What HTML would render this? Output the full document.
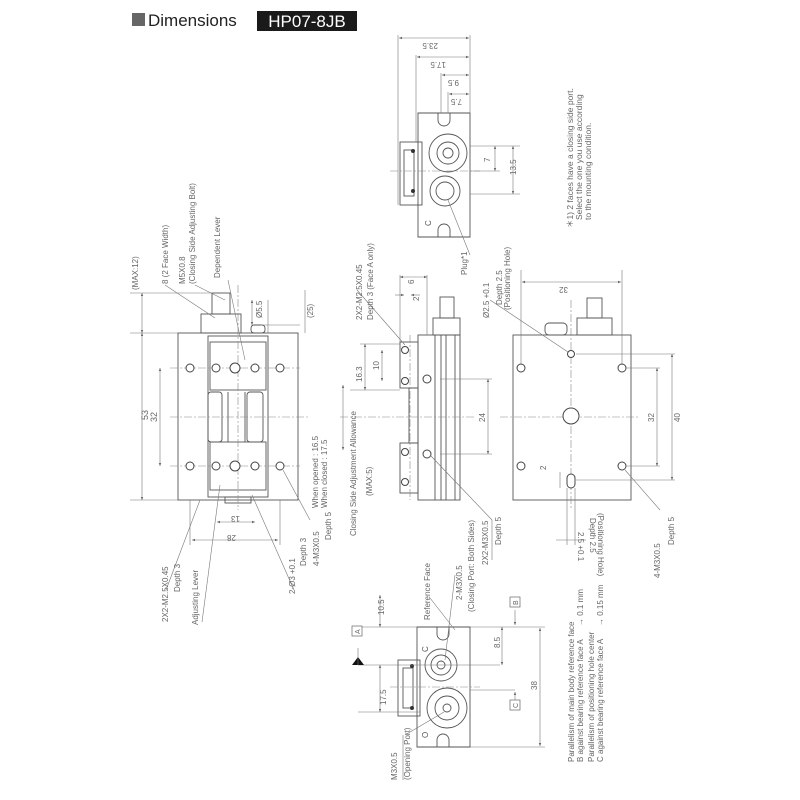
<!DOCTYPE html>
<html><head><meta charset="utf-8">
<style>
html,body{margin:0;padding:0;background:#fff;width:800px;height:800px;overflow:hidden}
svg{display:block}
text{font-family:"Liberation Sans",sans-serif;fill:#666;font-size:8px}
.l{stroke:#555;stroke-width:0.9;fill:none}
.t{stroke:#777;stroke-width:0.6;fill:none}
.c{stroke:#888;stroke-width:0.6;fill:none;stroke-dasharray:8 2 2 2}
.h{stroke:#444;stroke-width:1;fill:#fff}
</style></head><body>
<svg width="800" height="800" viewBox="0 0 800 800" xmlns="http://www.w3.org/2000/svg">
<defs>
<marker id="a" markerWidth="6" markerHeight="6" refX="5" refY="3" orient="auto-start-reverse"><path d="M0,1 L5,3 L0,5" fill="#666" stroke="none"/></marker>
</defs>
<rect x="132" y="13" width="13" height="13" fill="#666"/>
<text x="148" y="26" style="font-size:17px;fill:#222">Dimensions</text>
<rect x="257" y="11" width="100" height="20" fill="#1a1a1a"/>
<text x="307" y="27" text-anchor="middle" style="font-size:17px;fill:#fff">HP07-8JB</text>

<!-- LEFT VIEW -->
<rect class="l" x="178" y="333" width="120" height="167"/>
<rect class="l" x="208" y="336" width="60" height="161"/>
<rect class="l" x="210" y="342" width="56" height="48"/>
<rect class="l" x="210" y="442" width="56" height="48"/>
<rect class="l" x="208" y="392" width="14" height="50" rx="3"/>
<rect class="l" x="247" y="392" width="16" height="50" rx="3"/>
<line class="l" x1="228" y1="392" x2="228" y2="442"/>
<line class="l" x1="245" y1="392" x2="245" y2="442"/>
<rect class="l" x="201" y="314" width="40" height="19"/>
<rect class="l" x="212" y="293" width="18" height="21"/>
<rect class="l" x="251" y="325" width="14" height="8" rx="3"/>
<rect class="l" x="225" y="497" width="26" height="6"/>
<line class="c" x1="238" y1="285" x2="238" y2="510"/>
<line class="c" x1="170" y1="417" x2="310" y2="417"/>
<line class="c" x1="170" y1="368" x2="300" y2="368"/>
<line class="c" x1="170" y1="466" x2="300" y2="466"/>
<g class="h">
<circle cx="190" cy="368" r="4"/><circle cx="216" cy="368" r="4"/><circle cx="235" cy="368" r="5"/><circle cx="255" cy="368" r="4"/><circle cx="280" cy="368" r="4"/>
<circle cx="190" cy="466" r="4"/><circle cx="216" cy="466" r="4"/><circle cx="235" cy="466" r="5"/><circle cx="255" cy="466" r="4"/><circle cx="280" cy="466" r="4"/>
</g>
<line class="t" x1="130" y1="333" x2="178" y2="333"/><line class="t" x1="130" y1="500" x2="178" y2="500"/>
<line class="t" x1="130" y1="293" x2="212" y2="293"/>
<line class="t" marker-start="url(#a)" marker-end="url(#a)" x1="142" y1="333" x2="142" y2="500"/>
<line class="t" marker-start="url(#a)" marker-end="url(#a)" x1="142" y1="293" x2="142" y2="333"/>
<line class="t" marker-start="url(#a)" marker-end="url(#a)" x1="160" y1="368" x2="160" y2="466"/>
<text transform="translate(148,420) rotate(-90)" style="font-size:9px">53</text>
<text transform="translate(157,422) rotate(-90)" style="font-size:9px">32</text>
<text transform="translate(138,290) rotate(-90)">(MAX:12)</text>
<line class="t" marker-start="url(#a)" marker-end="url(#a)" x1="252" y1="300" x2="252" y2="325"/>
<text transform="translate(262,318) rotate(-90)">Ø5.5</text>
<line class="t" x1="268" y1="300" x2="268" y2="333"/>
<line class="t" x1="260" y1="325" x2="300" y2="325"/>
<text transform="translate(313,318) rotate(-90)">(25)</text>
<line class="t" x1="305" y1="290" x2="305" y2="333"/>
<text transform="translate(168,284) rotate(-90)">8 (2 Face Width)</text>
<text transform="translate(185,284) rotate(-90)">M5X0.8</text>
<text transform="translate(195,284) rotate(-90)">(Closing Side Adjusting Bolt)</text>
<text transform="translate(220,278) rotate(-90)">Dependent Lever</text>
<line class="t" x1="165" y1="285" x2="215" y2="318"/>
<line class="t" x1="195" y1="285" x2="225" y2="300"/>
<line class="t" x1="228" y1="280" x2="245" y2="360"/>
<line class="t" x1="190" y1="500" x2="190" y2="545"/><line class="t" x1="280" y1="500" x2="280" y2="545"/>
<line class="t" marker-start="url(#a)" marker-end="url(#a)" x1="192" y1="540" x2="278" y2="540"/>
<text transform="translate(236,535) rotate(180)">28</text>
<line class="t" marker-start="url(#a)" marker-end="url(#a)" x1="217" y1="522" x2="255" y2="522"/>
<text transform="translate(240,516) rotate(180)">13</text>
<line class="t" x1="166" y1="590" x2="200" y2="500"/>
<line class="t" x1="202" y1="622" x2="220" y2="485"/>
<line class="t" x1="294" y1="590" x2="252" y2="495"/>
<line class="t" x1="310" y1="520" x2="283" y2="470"/>
<text transform="translate(168,622) rotate(-90)">2X2-M2.5X0.45</text>
<text transform="translate(180,592) rotate(-90)">Depth 3</text>
<text transform="translate(198,625) rotate(-90)">Adjusting Lever</text>
<text transform="translate(295,594) rotate(-90)">2-Ø3 +0.1</text>
<text transform="translate(306,566) rotate(-90)">Depth 3</text>
<text transform="translate(319,566) rotate(-90)">4-M3X0.5</text>
<text transform="translate(331,540) rotate(-90)">Depth 5</text>

<!-- MIDDLE SIDE VIEW -->
<rect class="l" x="418" y="335" width="42" height="165"/>
<line class="l" x1="435" y1="335" x2="435" y2="500"/>
<line class="l" x1="441" y1="335" x2="441" y2="500"/>
<line class="l" x1="446" y1="335" x2="446" y2="500"/>
<line class="l" x1="455" y1="335" x2="455" y2="500"/>
<rect class="l" x="400" y="342" width="18" height="46"/>
<rect class="l" x="400" y="443" width="18" height="50"/>
<rect class="l" x="409" y="388" width="9" height="55"/>
<rect class="l" x="433" y="318" width="27" height="17"/>
<rect class="l" x="440" y="297" width="14" height="21"/>
<line class="c" x1="340" y1="417" x2="475" y2="417"/>
<line class="c" x1="410" y1="335" x2="410" y2="500"/>
<g class="h">
<circle cx="405" cy="350" r="3.5"/><circle cx="405" cy="381" r="3.5"/><circle cx="405" cy="452" r="3.5"/><circle cx="405" cy="482" r="3.5"/>
<circle cx="427" cy="379" r="4"/><circle cx="427" cy="454" r="4"/>
</g>
<line class="t" x1="360" y1="344" x2="400" y2="344"/><line class="t" x1="350" y1="390" x2="400" y2="390"/>
<line class="t" marker-start="url(#a)" marker-end="url(#a)" x1="365" y1="344" x2="365" y2="390"/>
<text transform="translate(362,382) rotate(-90)">16.3</text>
<line class="t" marker-start="url(#a)" marker-end="url(#a)" x1="382" y1="350" x2="382" y2="381"/>
<text transform="translate(379,370) rotate(-90)">10</text>
<line class="t" marker-start="url(#a)" marker-end="url(#a)" x1="488" y1="379" x2="488" y2="454"/>
<line class="t" x1="440" y1="379" x2="492" y2="379"/><line class="t" x1="440" y1="454" x2="492" y2="454"/>
<text transform="translate(485,422) rotate(-90)">24</text>
<line class="t" x1="400" y1="275" x2="400" y2="342"/><line class="t" x1="427" y1="275" x2="427" y2="335"/>
<line class="t" marker-start="url(#a)" marker-end="url(#a)" x1="400" y1="277" x2="427" y2="277"/>
<text transform="translate(414,284) rotate(-90)">6</text>
<line class="t" marker-end="url(#a)" x1="395" y1="295" x2="404" y2="295"/><line class="t" marker-end="url(#a)" x1="420" y1="295" x2="411" y2="295"/>
<text transform="translate(419,301) rotate(-90)">2</text>
<line class="t" marker-start="url(#a)" marker-end="url(#a)" x1="343" y1="385" x2="343" y2="450"/>
<text transform="translate(356,536) rotate(-90)">Closing Side Adjustment Allowance</text>
<text transform="translate(372,496) rotate(-90)">(MAX:5)</text>
<text transform="translate(318,508) rotate(-90)">When opened : 16.5</text>
<text transform="translate(327,508) rotate(-90)">When closed : 17.5</text>
<line class="t" x1="357" y1="290" x2="405" y2="345"/>
<text transform="translate(362,320) rotate(-90)">2X2-M2.5X0.45</text>
<text transform="translate(373,320) rotate(-90)">Depth 3 (Face A only)</text>
<line class="t" x1="430" y1="455" x2="492" y2="520"/>
<line class="t" x1="492" y1="520" x2="492" y2="560"/>
<text transform="translate(488,565) rotate(-90)">2X2-M3X0.5</text>
<text transform="translate(501,545) rotate(-90)">Depth 5</text>

<!-- RIGHT VIEW -->
<rect class="l" x="513" y="335" width="118" height="165"/>
<rect class="l" x="545" y="323" width="22" height="12" rx="4"/>
<rect class="l" x="577" y="318" width="35" height="17"/>
<rect class="l" x="587" y="298" width="15" height="20"/>
<line class="c" x1="500" y1="417" x2="640" y2="417"/>
<line class="c" x1="571" y1="300" x2="571" y2="510"/>
<g class="h">
<circle cx="521" cy="368" r="4"/><circle cx="622" cy="368" r="4"/><circle cx="521" cy="466" r="4"/><circle cx="622" cy="466" r="4"/>
<circle cx="571" cy="354" r="3.5"/><circle cx="571" cy="416" r="8"/>
<rect x="567" y="474" width="8" height="14" rx="4"/>
</g>
<line class="t" x1="521" y1="270" x2="521" y2="365"/><line class="t" x1="622" y1="270" x2="622" y2="365"/>
<line class="t" marker-start="url(#a)" marker-end="url(#a)" x1="522" y1="282" x2="621" y2="282"/>
<text transform="translate(568,287) rotate(180)">32</text>
<line class="t" x1="576" y1="354" x2="675" y2="354"/><line class="t" x1="626" y1="368" x2="660" y2="368"/>
<line class="t" x1="576" y1="480" x2="675" y2="480"/><line class="t" x1="626" y1="466" x2="660" y2="466"/>
<line class="t" marker-start="url(#a)" marker-end="url(#a)" x1="657" y1="368" x2="657" y2="466"/>
<text transform="translate(654,422) rotate(-90)">32</text>
<line class="t" marker-start="url(#a)" marker-end="url(#a)" x1="672" y1="354" x2="672" y2="480"/>
<text transform="translate(680,422) rotate(-90)">40</text>
<line class="t" x1="490" y1="300" x2="568" y2="352"/>
<text transform="translate(489,318) rotate(-90)">Ø2.5 +0.1</text>
<text transform="translate(502,305) rotate(-90)">Depth 2.5</text>
<text transform="translate(510,310) rotate(-90)">(Positioning Hole)</text>
<line class="t" x1="560" y1="472" x2="560" y2="488"/>
<text transform="translate(546,470) rotate(-90)">2</text>
<line class="t" x1="567" y1="488" x2="567" y2="545"/><line class="t" x1="575" y1="488" x2="575" y2="545"/>
<line class="t" x1="556" y1="540" x2="586" y2="540"/>
<text transform="translate(578,532) rotate(90)">2.5 +0.1</text>
<text transform="translate(590,518) rotate(90)">Depth 2.5</text>
<text transform="translate(598,513) rotate(90)">(Positioning Hole)</text>
<line class="t" x1="625" y1="470" x2="660" y2="510"/>
<text transform="translate(660,578) rotate(-90)">4-M3X0.5</text>
<text transform="translate(674,545) rotate(-90)">Depth 5</text>

<!-- TOP SMALL VIEW -->
<path class="l" d="M418,113 H470 V237 H418 Z"/>
<path class="l" d="M438,113 V120 A6,6 0 0 0 450,120 V113"/>
<path class="l" d="M438,237 V230 A6,6 0 0 1 450,230 V237"/>
<rect class="l" x="400" y="142" width="22" height="63"/>
<rect class="l" x="404" y="150" width="10" height="46"/>
<circle class="l" cx="448" cy="153" r="19"/><circle class="l" cx="448" cy="153" r="11"/><circle class="l" cx="448" cy="153" r="5"/>
<circle class="l" cx="445" cy="191" r="15"/><circle class="l" cx="445" cy="191" r="9"/>
<circle fill="#333" cx="413" cy="151" r="2"/><circle fill="#333" cx="413" cy="191" r="2"/>
<line class="c" x1="390" y1="171" x2="480" y2="171"/>
<line class="t" x1="398" y1="35" x2="398" y2="205"/><line class="t" x1="470" y1="35" x2="470" y2="113"/>
<line class="t" marker-start="url(#a)" marker-end="url(#a)" x1="399" y1="38" x2="469" y2="38"/>
<text transform="translate(438,43) rotate(180)">23.5</text>
<line class="t" x1="416" y1="55" x2="416" y2="142"/>
<line class="t" marker-start="url(#a)" marker-end="url(#a)" x1="417" y1="57" x2="469" y2="57"/>
<text transform="translate(446,62) rotate(180)">17.5</text>
<line class="t" x1="441" y1="73" x2="441" y2="113"/>
<line class="t" marker-start="url(#a)" marker-end="url(#a)" x1="442" y1="75" x2="469" y2="75"/>
<text transform="translate(459,80) rotate(180)">9.5</text>
<line class="t" x1="448" y1="92" x2="448" y2="113"/>
<line class="t" marker-start="url(#a)" marker-end="url(#a)" x1="449" y1="94" x2="469" y2="94"/>
<text transform="translate(462,99) rotate(180)">7.5</text>
<line class="t" x1="470" y1="146" x2="520" y2="146"/><line class="t" x1="470" y1="171" x2="500" y2="171"/><line class="t" x1="470" y1="194" x2="520" y2="194"/>
<line class="t" marker-start="url(#a)" marker-end="url(#a)" x1="495" y1="146" x2="495" y2="171"/>
<text transform="translate(490,162) rotate(-90)">7</text>
<line class="t" marker-start="url(#a)" marker-end="url(#a)" x1="513" y1="146" x2="513" y2="194"/>
<text transform="translate(516,175) rotate(-90)">13.5</text>
<text transform="translate(431,226) rotate(-90)" style="fill:#555">C</text>
<line class="t" x1="448" y1="200" x2="470" y2="255"/>
<text transform="translate(467,275) rotate(-90)">Plug*1</text>
<text transform="translate(573,228) rotate(-90)" style="font-size:8.5px">＊1) 2 faces have a closing side port.</text>
<text transform="translate(582,220) rotate(-90)" style="font-size:8.5px">Select the one you use according</text>
<text transform="translate(591,220) rotate(-90)" style="font-size:8.5px">to the mounting condition.</text>

<!-- BOTTOM SMALL VIEW -->
<path class="l" d="M417,627 H470 V747 H417 Z"/>
<path class="l" d="M437,627 V634 A6,6 0 0 0 449,634 V627"/>
<path class="l" d="M437,747 V740 A6,6 0 0 1 449,740 V747"/>
<rect class="l" x="398" y="660" width="22" height="56"/>
<rect class="l" x="403" y="668" width="10" height="40"/>
<circle fill="#333" cx="412" cy="666" r="2"/><circle fill="#333" cx="412" cy="708" r="2"/>
<circle class="l" cx="441" cy="665" r="16"/><circle class="l" cx="441" cy="665" r="10"/><circle class="l" cx="441" cy="665" r="4"/>
<circle class="l" cx="447" cy="708" r="20"/><circle class="l" cx="447" cy="708" r="12"/><circle class="l" cx="447" cy="708" r="4"/>
<line class="c" x1="390" y1="687" x2="480" y2="687"/>
<line class="t" x1="358" y1="627" x2="417" y2="627"/>
<line class="t" x1="358" y1="665" x2="500" y2="665"/>
<line class="t" x1="358" y1="712" x2="420" y2="712"/>
<line class="t" marker-start="url(#a)" marker-end="url(#a)" x1="380" y1="595" x2="380" y2="627"/>
<text transform="translate(384,615) rotate(-90)">10.5</text>
<line class="t" marker-start="url(#a)" marker-end="url(#a)" x1="380" y1="665" x2="380" y2="712"/>
<text transform="translate(386,705) rotate(-90)">17.5</text>
<path d="M352,665 L358,657 L364,665 Z" fill="#111"/>
<line class="t" x1="358" y1="648" x2="358" y2="665"/>
<rect x="352" y="626" width="10" height="10" fill="#fff" stroke="#666" stroke-width="0.7"/>
<text transform="translate(360,634) rotate(-90)" style="font-size:7px">A</text>
<line class="t" x1="470" y1="627" x2="545" y2="627"/><line class="t" x1="470" y1="747" x2="545" y2="747"/>
<line class="t" marker-start="url(#a)" marker-end="url(#a)" x1="540" y1="628" x2="540" y2="746"/>
<text transform="translate(537,690) rotate(-90)">38</text>
<line class="t" marker-start="url(#a)" marker-end="url(#a)" x1="502" y1="627" x2="502" y2="665"/>
<text transform="translate(500,648) rotate(-90)">8.5</text>
<line class="t" x1="470" y1="690" x2="515" y2="690"/>
<line class="t" marker-end="url(#a)" x1="515" y1="610" x2="515" y2="625"/>
<rect x="510" y="597" width="10" height="10" fill="#fff" stroke="#666" stroke-width="0.7"/>
<text transform="translate(518,605) rotate(-90)" style="font-size:7px">B</text>
<line class="t" marker-end="url(#a)" x1="515" y1="700" x2="515" y2="692"/>
<rect x="510" y="700" width="10" height="10" fill="#fff" stroke="#666" stroke-width="0.7"/>
<text transform="translate(518,708) rotate(-90)" style="font-size:7px">C</text>
<text transform="translate(428,652) rotate(-90)" style="fill:#555">C</text>
<text transform="translate(428,738) rotate(-90)" style="fill:#555">O</text>
<line class="t" x1="430" y1="598" x2="455" y2="630"/>
<text transform="translate(430,620) rotate(-90)">Reference Face</text>
<line class="t" x1="455" y1="575" x2="445" y2="660"/>
<text transform="translate(462,600) rotate(-90)">2-M3X0.5</text>
<text transform="translate(474,612) rotate(-90)">(Closing Port: Both Sides)</text>
<line class="t" x1="405" y1="735" x2="444" y2="712"/>
<line class="t" x1="403" y1="735" x2="403" y2="780"/>
<text transform="translate(397,780) rotate(-90)">M3X0.5</text>
<text transform="translate(410,780) rotate(-90)">(Opening Port)</text>
<text transform="translate(574,762) rotate(-90)">Parallelism of main body reference face</text>
<text transform="translate(583,762) rotate(-90)">B against bearing reference face A</text>
<text transform="translate(583,626) rotate(-90)">→ 0.1 mm</text>
<text transform="translate(594,762) rotate(-90)">Parallelism of positioning hole center</text>
<text transform="translate(603,762) rotate(-90)">C against bearing reference face A</text>
<text transform="translate(603,626) rotate(-90)">→ 0.15 mm</text>
</svg>
</body></html>
